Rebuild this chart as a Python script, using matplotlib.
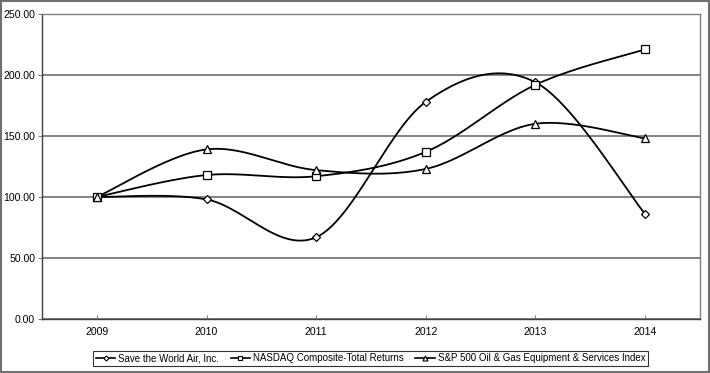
import numpy as np
import matplotlib.pyplot as plt
from matplotlib.lines import Line2D
from matplotlib.patches import Rectangle

years = ['2009', '2010', '2011', '2012', '2013', '2014']
swa = [100, 98, 67, 178, 194, 86]
nasdaq = [100, 118, 117, 137, 192, 221]
spoil = [100, 139, 122, 123, 160, 148]

names = ['Save the World Air, Inc.',
         'NASDAQ Composite-Total Returns',
         'S&P 500 Oil & Gas Equipment & Services Index']
markers = ['D', 's', '^']
msizes = [4.3, 6.0, 6.0]

plt.rcParams['font.family'] = ['Liberation Sans', 'DejaVu Sans']


def smooth(x, y, n=30):
    # catmull-rom style curve, like excel's smoothed line
    x = np.asarray(x, float)
    y = np.asarray(y, float)
    px = np.concatenate([[x[0]], x, [x[-1]]])
    py = np.concatenate([[y[0]], y, [y[-1]]])
    xs, ys = [], []
    t = np.linspace(0, 1, n)
    for i in range(1, len(px) - 2):
        p0x, p1x, p2x, p3x = px[i-1], px[i], px[i+1], px[i+2]
        p0y, p1y, p2y, p3y = py[i-1], py[i], py[i+1], py[i+2]
        c1x = p1x + (p2x - p0x) / 6
        c1y = p1y + (p2y - p0y) / 6
        c2x = p2x - (p3x - p1x) / 6
        c2y = p2y - (p3y - p1y) / 6
        bx = (1-t)**3*p1x + 3*(1-t)**2*t*c1x + 3*(1-t)*t**2*c2x + t**3*p2x
        by = (1-t)**3*p1y + 3*(1-t)**2*t*c1y + 3*(1-t)*t**2*c2y + t**3*p2y
        xs.extend(bx)
        ys.extend(by)
    return xs, ys


fig = plt.figure(figsize=(7.1, 3.73), dpi=100)
ax = fig.add_axes([0.0592, 0.1448, 0.9267, 0.8177])

x = np.arange(len(years))
for vals, m, ms in zip([swa, nasdaq, spoil], markers, msizes):
    sx, sy = smooth(x, vals)
    ax.plot(sx, sy, color='black', lw=1.3, zorder=3)
    ax.plot(x, vals, linestyle='none', marker=m, ms=ms, mfc='white',
            mec='black', mew=0.9, zorder=4)

ax.set_xlim(-0.5, 5.5)
ax.set_ylim(0, 250)
ax.set_yticks(np.arange(0, 251, 50))
ax.set_yticklabels(['%.2f' % v for v in np.arange(0, 251, 50)])
ax.set_xticks(x)
ax.set_xticklabels(years)
ax.yaxis.grid(True, color='#7a7a7a', lw=1.3)
ax.set_axisbelow(True)
ax.tick_params(axis='both', labelsize=7.6, colors='black')
ax.tick_params(axis='x', direction='in', length=3, color='#808080', pad=6)
ax.tick_params(axis='y', direction='out', length=3, color='#808080', pad=2)
for s in ['top', 'right']:
    ax.spines[s].set_color('#808080')
for s in ['left', 'bottom']:
    ax.spines[s].set_color('#404040')
for s in ax.spines.values():
    s.set_linewidth(1.0)

handles = [Line2D([], [], color='black', lw=1.2, marker=m, ms=ms * 0.6,
                  mfc='white', mec='black', mew=0.8)
           for m, ms in zip(markers, msizes)]
leg = ax.legend(handles, names, loc='center', ncol=3,
                bbox_to_anchor=(0.522, 0.039), bbox_transform=fig.transFigure,
                fontsize=7.0, frameon=True, fancybox=False, edgecolor='black',
                handlelength=2.0, handletextpad=0.3, columnspacing=1.2,
                borderpad=0.3, borderaxespad=0)
leg.get_frame().set_linewidth(0.8)

fig.patches.append(Rectangle((0.001, 0.002), 0.997, 0.995, transform=fig.transFigure,
                             fill=False, edgecolor='#707070', lw=1.5))

fig.savefig('out.png', dpi=100)
